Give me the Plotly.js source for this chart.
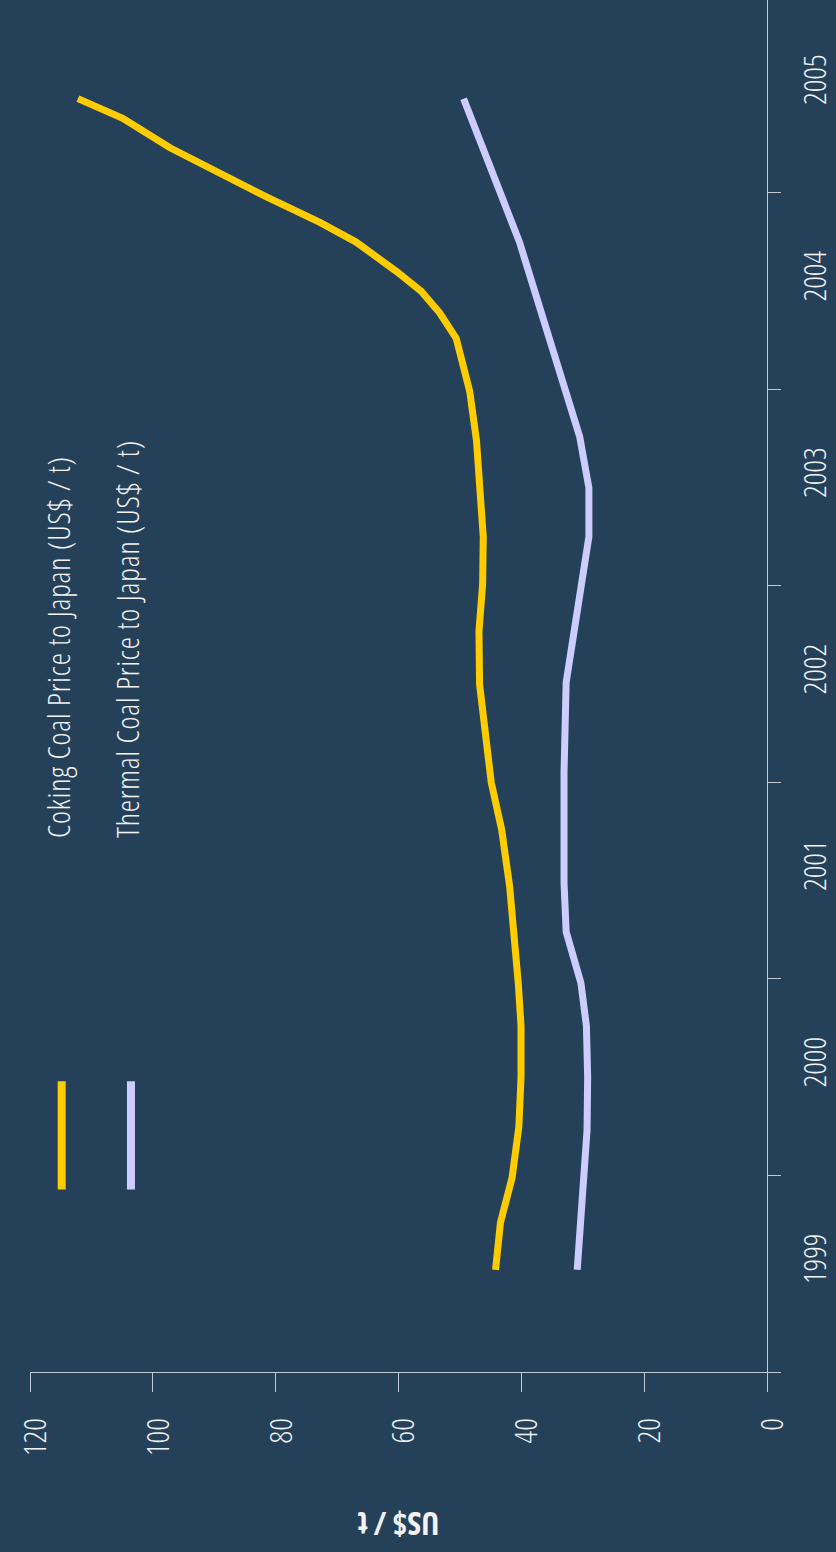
<!DOCTYPE html>
<html>
<head>
<meta charset="utf-8">
<script src="https://cdn.plot.ly/plotly-3.0.1.min.js"></script>
<style>
  html, body { margin: 0; padding: 0; width: 836px; height: 1552px; overflow: hidden; background: #25415a; }
  /* The chart is laid out landscape and turned a quarter turn counter-clockwise */
  #chart { position: absolute; left: 0; top: 0; width: 1552px; height: 836px;
           transform-origin: 0 0; transform: translateY(1552px) rotate(-90deg); }
  /* condensed lettering for every label; the key text is spaced slightly wider */
  text { font-stretch: 80% !important; }
  text.annotation-text { letter-spacing: 0.8px; }
</style>
</head>
<body>
<div id="chart"></div>
<script>
// Coking coal price to Japan, US$ per tonne (x in decimal years)
const cokingYears = [1999.52, 1999.76, 1999.99, 2000.25, 2000.50, 2000.76, 2000.98, 2001.47, 2001.76, 2002.00,
                     2002.50, 2002.77, 2003.01, 2003.25, 2003.74, 2003.99, 2004.26, 2004.39, 2004.50, 2004.60,
                     2004.75, 2004.85, 2004.98, 2005.23, 2005.38, 2005.48];
const cokingPrice = [44.2, 43.4, 41.5, 40.4, 40.05, 40.05, 40.5, 41.9, 43.2, 44.9,
                     46.8, 46.9, 46.3, 46.2, 47.3, 48.4, 50.6, 53.3, 56.3, 60.3,
                     66.9, 72.8, 81.5, 97.2, 104.9, 112.2];

// Thermal coal price to Japan, US$ per tonne
const thermalYears = [1999.52, 2000.23, 2000.50, 2000.76, 2000.98, 2001.24, 2001.49, 2002.05, 2002.51, 2003.03,
                      2003.25, 2003.50, 2003.76, 2004.75, 2005.48];
const thermalPrice = [30.9, 29.3, 29.2, 29.4, 30.3, 32.7, 33.05, 33.05, 32.7, 30.2,
                      29.0, 29.0, 30.5, 40.3, 49.4];

const seriesNames = ['Coking Coal Price to Japan (US$ / t)', 'Thermal Coal Price to Japan (US$ / t)'];
const seriesColors = ['#ffcc00', '#ccccff'];

// Year labels sit in the middle of each year; tick marks sit on year boundaries
const yearLabels = ['1999', '2000', '2001', '2002', '2003', '2004', '2005'];
const yearLabelPos = [1999.5, 2000.5, 2001.5, 2002.5, 2003.5, 2004.5, 2005.5];
const priceTicks = [0, 20, 40, 60, 80, 100, 120];

const FONT = '"Open Sans", Roboto, "DejaVu Sans Condensed", sans-serif';
const BG = '#25415a';
const AXIS = '#c3c9cf';
const INK = '#f2f2f2';

const traces = [
  { x: cokingYears, y: cokingPrice, name: seriesNames[0], type: 'scatter', mode: 'lines',
    line: { color: seriesColors[0], width: 7 } },
  { x: thermalYears, y: thermalPrice, name: seriesNames[1], type: 'scatter', mode: 'lines',
    line: { color: seriesColors[1], width: 7 } }
];

// Hand-placed key: a short coloured bar followed by the series name
const keyY = [0.957, 0.863];
const shapes = keyY.map((yy, i) => ({
  type: 'line', xref: 'paper', yref: 'paper', x0: 0.133, x1: 0.212, y0: yy, y1: yy,
  line: { color: seriesColors[i], width: 8 }
}));
const annotations = keyY.map((yy, i) => ({
  xref: 'paper', yref: 'paper', x: 0.388, y: yy + 0.005, xanchor: 'left', yanchor: 'middle',
  text: seriesNames[i], showarrow: false, font: { family: FONT, size: 31, color: INK, weight: 300 }
}));

const labelFont = { family: FONT, size: 31, color: INK, weight: 300 };

const layout = {
  width: 1552, height: 836,
  margin: { l: 180, r: 0, t: 30, b: 69 },
  paper_bgcolor: BG, plot_bgcolor: BG,
  showlegend: false,
  font: labelFont,
  xaxis: {
    type: 'linear', range: [1999, 2005.982], fixedrange: true,
    showgrid: false, zeroline: false,
    showline: true, linecolor: AXIS, linewidth: 1,
    tickmode: 'array', tickvals: yearLabelPos, ticktext: yearLabels,
    ticks: '', ticklabelshift: 15, ticklabelstandoff: 21,
    tickfont: labelFont,
    minor: { tickmode: 'linear', tick0: 1999, dtick: 1, ticks: 'outside', ticklen: 13,
             tickwidth: 1, tickcolor: AXIS, showgrid: false }
  },
  yaxis: {
    range: [0, 120], fixedrange: true,
    showgrid: false, zeroline: false,
    showline: true, linecolor: AXIS, linewidth: 1,
    tickmode: 'array', tickvals: priceTicks,
    ticks: 'outside', ticklen: 19, tickwidth: 1, tickcolor: AXIS,
    ticklabelstandoff: 20, ticklabelshift: 5,
    tickfont: labelFont,
    title: { text: 'US$ / t', standoff: 45,
             font: { family: FONT, size: 32, color: INK, weight: 700 } }
  },
  shapes: shapes,
  annotations: annotations
};

Plotly.newPlot('chart', traces, layout, { staticPlot: true, displayModeBar: false });
</script>
</body>
</html>
